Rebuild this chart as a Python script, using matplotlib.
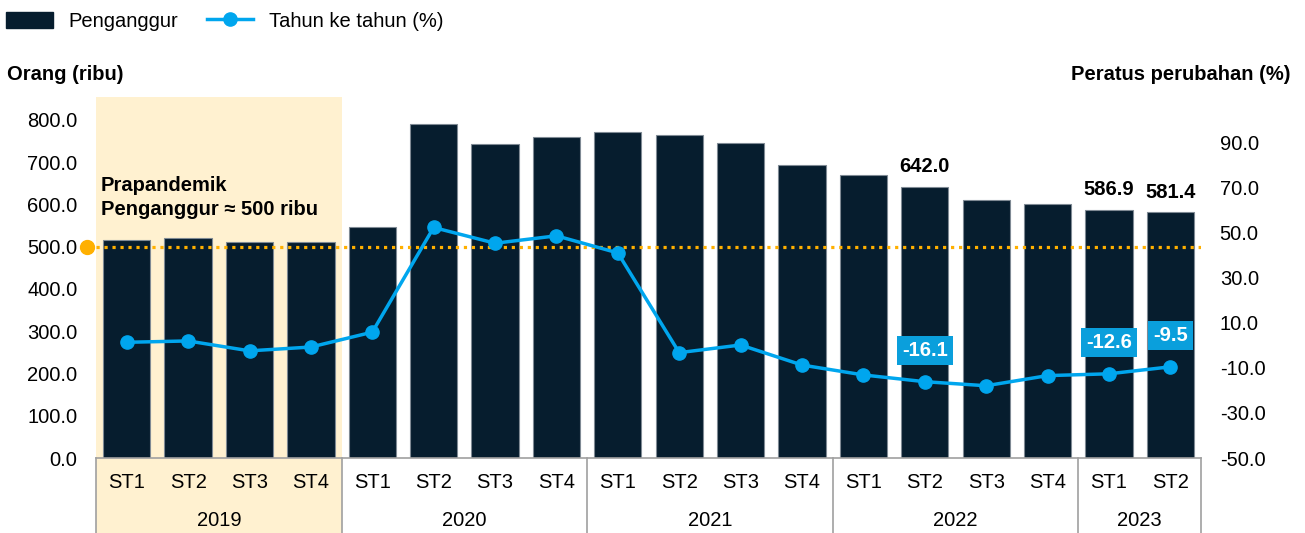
import numpy as np
import matplotlib.pyplot as plt
from matplotlib.patches import Rectangle, Patch
from matplotlib.lines import Line2D
import matplotlib.transforms as mtransforms

plt.rcParams['font.family'] = ['Liberation Sans', 'DejaVu Sans']

quarters = ['ST1', 'ST2', 'ST3', 'ST4'] * 4 + ['ST1', 'ST2']
years = ['2019', '2020', '2021', '2022', '2023']
year_len = [4, 4, 4, 4, 2]
penganggur = [515, 520, 511, 511, 546, 790, 744, 760, 771, 764, 745, 693,
              670, 642.0, 611, 600, 586.9, 581.4]
yoy = [1.4, 2.0, -2.4, -0.7, 5.9, 52.4, 45.4, 48.7, 41.1, -3.2, 0.2, -8.7,
       -13.1, -16.1, -17.9, -13.4, -12.6, -9.5]
bar_labels = {13: '642.0', 16: '586.9', 17: '581.4'}
line_labels = {13: '-16.1', 16: '-12.6', 17: '-9.5'}

navy = '#061d2e'
blue = '#00a6ee'
orange = '#ffb000'
cream = '#fff1d0'
grey = '#a0a0a0'
fs = 14.5

fig = plt.figure(figsize=(13.05, 5.33), dpi=100)
ax = fig.add_axes([0.0736, 0.1407, 0.8467, 0.6779])
ax2 = ax.twinx()

x = np.arange(len(penganggur))
ax.set_xlim(-0.5, len(x) - 0.5)
ax.set_ylim(0, 855)
ax2.set_ylim(-50, 110.5)

# 2019 highlight, running down into the category table
blend = mtransforms.blended_transform_factory(ax.transData, ax.transAxes)
ax.add_patch(Rectangle((-0.5, -0.3), 4, 1.3, transform=blend, color=cream,
                       zorder=0, clip_on=False, lw=0))

ax.bar(x, penganggur, width=0.77, color=navy, edgecolor='#7f8a94',
       linewidth=0.8, zorder=2)
for i, s in bar_labels.items():
    ax.text(x[i], penganggur[i] + 48, s, ha='center', va='center',
            fontsize=fs, fontweight='bold', color='black', zorder=5)

ax.axhline(500, color=orange, lw=2.3, ls=(0, (1, 1.5)), zorder=3)
ax.plot([-0.65], [500], 'o', color=orange, ms=10, clip_on=False, zorder=6)
ax.text(-0.42, 616, 'Prapandemik\nPenganggur ≈ 500 ribu', ha='left',
        va='center', fontsize=fs, fontweight='bold', linespacing=1.35,
        zorder=5)

ax2.plot(x, yoy, color=blue, lw=2.5, marker='o', ms=9.5, zorder=4)
for i, s in line_labels.items():
    ax2.annotate(s, (x[i], yoy[i]), xytext=(0, 31), textcoords='offset pixels',
                 ha='center', va='center', fontsize=fs, fontweight='bold',
                 color='white',
                 bbox=dict(boxstyle='square,pad=0.25', fc='#0a9fdc', ec='none'))

ax.set_yticks(np.arange(0, 801, 100))
ax.set_yticklabels([f'{v:.1f}' for v in np.arange(0, 801, 100)])
ax2.set_yticks(np.arange(-50, 91, 20))
ax2.set_yticklabels([f'{v:.1f}' for v in np.arange(-50, 91, 20)])
for a in (ax, ax2):
    a.tick_params(axis='y', length=0, labelsize=fs, pad=13.5)
    for sp in a.spines.values():
        sp.set_visible(False)
ax.set_xticks([])

# category table under the axis
ax.plot([-0.5, len(x) - 0.5], [0, 0], color=grey, lw=1.2, clip_on=False,
        transform=blend, zorder=3)
edges = np.concatenate([[0], np.cumsum(year_len)]) - 0.5
for e in edges:
    ax.plot([e, e], [0, -0.3], color=grey, lw=1.2, clip_on=False,
            transform=blend)
for i, q in enumerate(quarters):
    ax.text(x[i], -0.067, q, transform=blend, ha='center', va='center',
            fontsize=fs)
for k, yr in enumerate(years):
    ax.text((edges[k] + edges[k + 1]) / 2, -0.172, yr, transform=blend,
            ha='center', va='center', fontsize=fs)

fig.text(0.005, 0.861, 'Orang (ribu)', ha='left', va='center', fontsize=fs,
         fontweight='bold')
fig.text(0.989, 0.861, 'Peratus perubahan (%)', ha='right', va='center',
         fontsize=fs, fontweight='bold')

handles = [Patch(facecolor=navy, edgecolor=navy),
           Line2D([], [], color=blue, lw=2.5, marker='o', ms=9.5)]
fig.legend(handles, ['Penganggur', 'Tahun ke tahun (%)'], loc='center left',
           bbox_to_anchor=(-0.009, 0.96), ncol=2, frameon=False, fontsize=fs,
           handlelength=2.3, handleheight=0.8, columnspacing=1.4,
           handletextpad=0.8)

fig.savefig('out.png', dpi=100)
